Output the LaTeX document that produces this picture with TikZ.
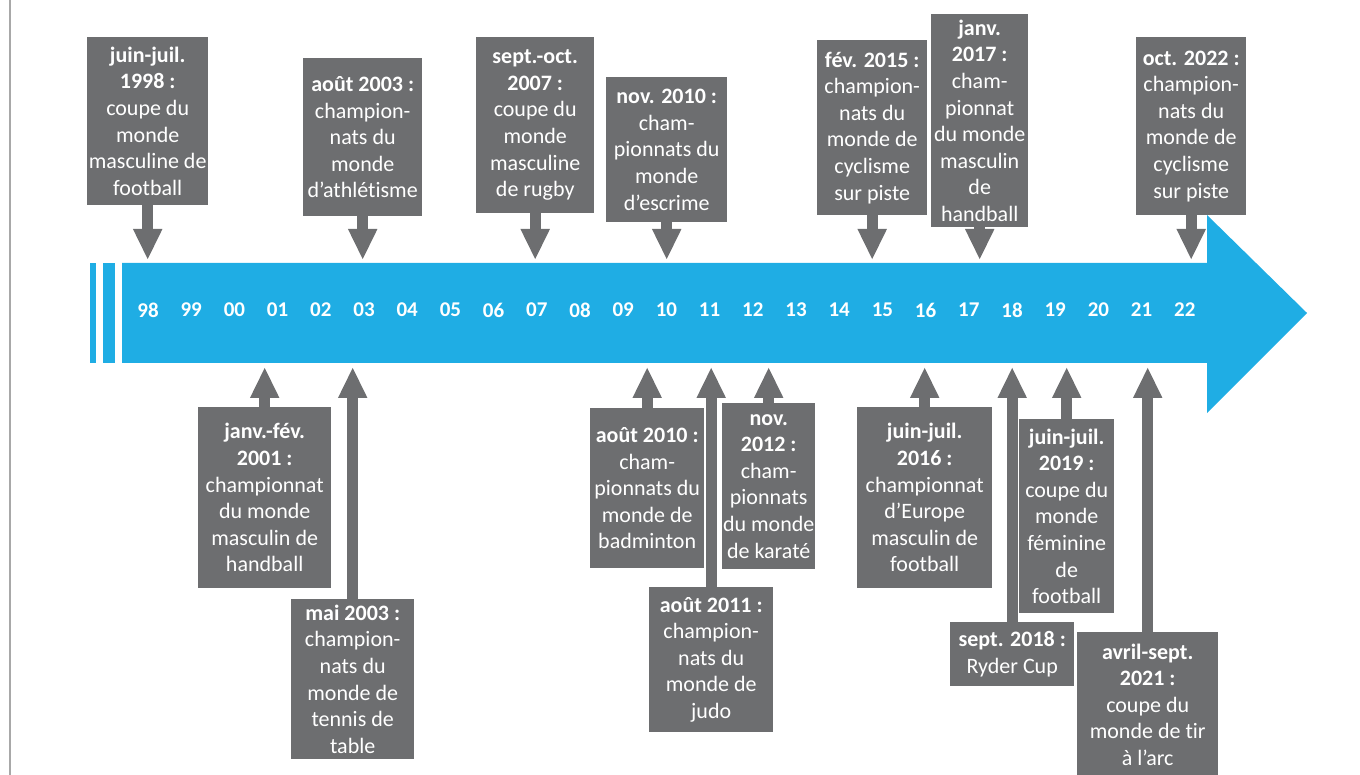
\documentclass[tikz,border=0pt]{standalone}
\usepackage{fontspec}
\setmainfont{Carlito}[Ligatures=NoCommon]
\usepackage{tikz}
\usetikzlibrary{arrows.meta}
\definecolor{bluFreccia}{RGB}{31,173,228}
\definecolor{grigioBox}{RGB}{109,110,112}
\definecolor{grigioBordo}{RGB}{168,168,168}

\tikzset{
  evento/.style={fill=grigioBox, text=white, align=center, inner sep=0pt,
    anchor=north west, font=\fontsize{22}{26.6}\selectfont},
  freccina/.style={grigioBox, line width=11pt,
    -{Triangle[length=31pt,width=27pt]}},
  anno/.style={text=white, font=\bfseries\fontsize{21}{24}\selectfont}
}

\begin{document}
\begin{tikzpicture}[x=1pt,y=-1pt]

\useasboundingbox (0,0) rectangle (1360,775);

% ---- bordo sinistro ----
\draw[grigioBordo,line width=2pt] (10,0) -- (10,775);

% ---- freccia blu ----
\fill[bluFreccia] (122,263) -- (1207,263) -- (1207,215) -- (1307,313)
  -- (1207,413) -- (1207,363) -- (122,363) -- cycle;
\fill[bluFreccia] (90,263) rectangle (96,363);
\fill[bluFreccia] (103,263) rectangle (115,363);

% anni
\foreach \lab [count=\i from 0] in {98,99,00,01,02,03,04,05,06,07,08,09,10,11,12,13,14,15,16,17,18,19,20,21,22}
  \node[anno] (a\lab) at ({148+43.2*\i},310) {\lab};

% punti d'arrivo delle frecce
\coordinate (sopra) at (0,260);
\coordinate (sotto) at (0,367);

% ---- eventi sopra ----
\node[evento, minimum width=121pt, minimum height=168pt] (e98) at (87,37)
  {\textbf{juin-juil.}\\\textbf{1998 :}\\coupe du\\monde\\masculine de\\football};
\node[evento, minimum width=119pt, minimum height=158pt] (e03a) at (303,58)
  {\textbf{août 2003 :}\\champion-\\nats du\\monde\\d’athlétisme};
\node[evento, minimum width=118pt, minimum height=176pt] (e07) at (476,37)
  {\textbf{sept.-oct.}\\\textbf{2007 :}\\coupe du\\monde\\masculine\\de rugby};
\node[evento, minimum width=121pt, minimum height=145pt] (e10n) at (606,77)
  {\textbf{nov. 2010 :}\\cham-\\pionnats du\\monde\\d’escrime};
\node[evento, minimum width=110pt, minimum height=175pt] (e15) at (817,40)
  {\textbf{fév. 2015 :}\\champion-\\nats du\\monde de\\cyclisme\\sur piste};
\node[evento, minimum width=97pt, minimum height=213pt] (e17) at (931,14)
  {\textbf{janv.}\\\textbf{2017 :}\\cham-\\pionnat\\du monde\\masculin\\de\\handball};
\node[evento, minimum width=110pt, minimum height=178pt] (e22) at (1136,37)
  {\textbf{oct. 2022 :}\\champion-\\nats du\\monde de\\cyclisme\\sur piste};

\foreach \e in {e98,e03a,e07,e10n,e15,e17,e22}
  \draw[freccina] (\e.south) -- (\e.south |- sopra);

% ---- eventi sotto ----
\node[evento, minimum width=133pt, minimum height=181pt] (e01) at (198,407)
  {\textbf{janv.-fév.}\\\textbf{2001 :}\\championnat\\du monde\\masculin de\\handball};
\node[evento, minimum width=123pt, minimum height=160pt] (e03m) at (291,599)
  {\textbf{mai 2003 :}\\champion-\\nats du\\monde de\\tennis de\\table};
\node[evento, minimum width=114pt, minimum height=160pt] (e10a) at (590,408)
  {\textbf{août 2010 :}\\cham-\\pionnats du\\monde de\\badminton};
\node[evento, minimum width=124pt, minimum height=145pt] (e11) at (649,587)
  {\textbf{août 2011 :}\\champion-\\nats du\\monde de\\judo};
\node[evento, minimum width=93pt, minimum height=166pt] (e12) at (722,403)
  {\textbf{nov.}\\\textbf{2012 :}\\cham-\\pionnats\\du monde\\de karaté};
\node[evento, minimum width=135pt, minimum height=181pt] (e16) at (857,407)
  {\textbf{juin-juil.}\\\textbf{2016 :}\\championnat\\d’Europe\\masculin de\\football};
\node[evento, minimum width=95pt, minimum height=194pt] (e19) at (1019,419)
  {\textbf{juin-juil.}\\\textbf{2019 :}\\coupe du\\monde\\féminine\\de\\football};
\node[evento, minimum width=124pt, minimum height=64pt] (e18) at (950,622)
  {\textbf{sept. 2018 :}\\Ryder Cup};
\node[evento, minimum width=141pt, minimum height=145pt] (e21) at (1077,632)
  {\textbf{avril-sept.}\\\textbf{2021 :}\\coupe du\\monde de tir\\à l’arc};

\foreach \e in {e01,e03m,e10a,e11,e12,e16,e19,e18,e21}
  \draw[freccina] (\e.north) -- (\e.north |- sotto);

\end{tikzpicture}
\end{document}
